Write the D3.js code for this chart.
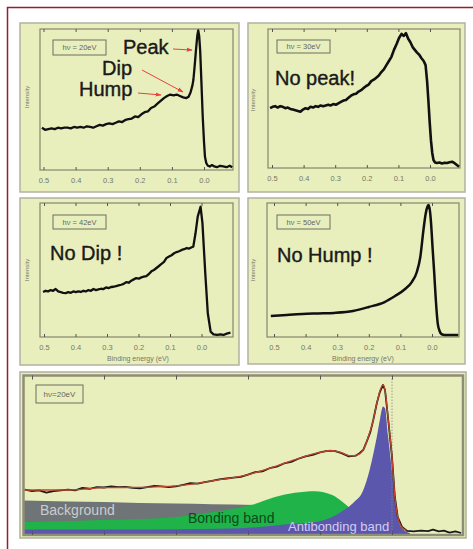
<!DOCTYPE html>
<html><head><meta charset="utf-8">
<script src="https://cdn.jsdelivr.net/npm/d3@7"></script>
<style>body{margin:0;background:#fff}svg{display:block}</style>
</head><body>
<svg id="c" width="473" height="549"></svg>
<script>
// ---------- data ----------
const tickValues = [0.5, 0.4, 0.3, 0.2, 0.1, 0.0];
const tickLabels = ["0.5", "0.4", "0.3", "0.2", "0.1", "0.0"];
const panelTitles = ["hν = 20eV", "hν = 30eV", "hν = 42eV", "hν = 50eV", "hν=20eV"];
const panelNotes = ["", "No peak!", "No Dip !", "No Hump !"];

const p1Energy = [0.505,0.495,0.485,0.475,0.465,0.455,0.445,0.435,0.425,0.415,0.405,0.395,0.385,0.375,0.365,0.355,0.345,0.335,0.325,0.315,0.305,0.295,0.285,0.275,0.265,0.255,0.245,0.235,0.225,0.215,0.205,0.195,0.185,0.175,0.165,0.155,0.145,0.135,0.125,0.115,0.105,0.095,0.085,0.075,0.065,0.055,0.048,0.042,0.036,0.033,0.029,0.025,0.021,0.018,0.015,0.012,0.008,0.004,0.000,-0.003,-0.007,-0.012,-0.018,-0.025,-0.032,-0.040,-0.050,-0.060,-0.070,-0.080,-0.088];
const p1Intensity = [0.30,0.285,0.29,0.295,0.29,0.30,0.295,0.30,0.30,0.295,0.305,0.30,0.305,0.30,0.31,0.305,0.30,0.31,0.32,0.315,0.325,0.33,0.325,0.335,0.345,0.34,0.355,0.36,0.365,0.38,0.375,0.395,0.41,0.415,0.44,0.45,0.47,0.49,0.51,0.525,0.535,0.53,0.535,0.525,0.515,0.51,0.52,0.55,0.60,0.64,0.74,0.85,0.95,0.99,0.95,0.85,0.62,0.38,0.20,0.094,0.05,0.03,0.025,0.035,0.025,0.02,0.03,0.025,0.02,0.03,0.02];

const p2Energy = [0.506,0.498,0.49,0.482,0.474,0.466,0.458,0.45,0.442,0.434,0.426,0.418,0.41,0.402,0.394,0.386,0.378,0.37,0.362,0.354,0.346,0.338,0.33,0.322,0.314,0.306,0.298,0.29,0.282,0.274,0.266,0.258,0.25,0.242,0.234,0.226,0.218,0.21,0.202,0.194,0.186,0.178,0.17,0.162,0.154,0.146,0.138,0.13,0.122,0.114,0.106,0.098,0.09,0.083,0.076,0.069,0.062,0.055,0.048,0.041,0.034,0.027,0.02,0.014,0.009,0.005,0.001,-0.003,-0.007,-0.011,-0.016,-0.022,-0.03,-0.038,-0.046,-0.054,-0.062,-0.07,-0.078,-0.086,-0.092];
const p2Intensity = [0.43,0.44,0.445,0.435,0.445,0.44,0.43,0.435,0.425,0.42,0.415,0.41,0.405,0.42,0.43,0.425,0.44,0.435,0.445,0.44,0.45,0.445,0.45,0.455,0.45,0.46,0.455,0.465,0.475,0.485,0.49,0.505,0.52,0.53,0.535,0.55,0.56,0.575,0.59,0.60,0.625,0.635,0.65,0.665,0.69,0.71,0.74,0.77,0.80,0.85,0.89,0.935,0.965,0.95,0.97,0.93,0.905,0.87,0.85,0.83,0.815,0.79,0.77,0.74,0.62,0.48,0.33,0.20,0.11,0.058,0.04,0.036,0.04,0.033,0.038,0.036,0.042,0.045,0.035,0.02,0.01];

const p3Energy = [0.503,0.495,0.487,0.479,0.471,0.463,0.455,0.447,0.439,0.431,0.423,0.415,0.407,0.399,0.391,0.383,0.375,0.367,0.359,0.351,0.343,0.335,0.327,0.319,0.311,0.303,0.295,0.287,0.279,0.271,0.263,0.255,0.247,0.239,0.231,0.223,0.215,0.207,0.199,0.191,0.183,0.175,0.167,0.159,0.151,0.143,0.135,0.127,0.119,0.111,0.103,0.095,0.087,0.079,0.071,0.063,0.055,0.047,0.039,0.031,0.026,0.019,0.012,0.003,-0.003,-0.012,-0.02,-0.029,-0.038,-0.05,-0.06,-0.07,-0.08,-0.092];
const p3Intensity = [0.336,0.345,0.34,0.35,0.345,0.358,0.34,0.335,0.33,0.328,0.335,0.33,0.34,0.335,0.34,0.336,0.345,0.34,0.35,0.345,0.358,0.35,0.355,0.36,0.358,0.37,0.365,0.373,0.375,0.38,0.385,0.39,0.396,0.41,0.405,0.42,0.43,0.44,0.435,0.445,0.45,0.455,0.47,0.49,0.50,0.515,0.53,0.545,0.56,0.59,0.60,0.61,0.625,0.634,0.64,0.65,0.655,0.664,0.66,0.67,0.674,0.774,0.898,0.972,0.85,0.475,0.177,0.04,0.02,0.015,0.02,0.015,0.025,0.032];

const p4Energy = [0.51,0.46,0.41,0.36,0.31,0.25,0.20,0.15,0.117,0.085,0.064,0.048,0.037,0.027,0.02,0.014,0.011,0.007,0.003,-0.002,-0.007,-0.012,-0.018,-0.024,-0.03,-0.04,-0.083];
const p4Intensity = [0.157,0.165,0.172,0.176,0.18,0.194,0.224,0.261,0.306,0.358,0.41,0.485,0.597,0.80,0.92,0.975,0.985,0.95,0.85,0.66,0.478,0.28,0.104,0.045,0.022,0.015,0.015];

// bottom panel (hv = 20 eV decomposition)
const dataEnergy = [0.51,0.50,0.49,0.48,0.47,0.46,0.45,0.44,0.43,0.42,0.41,0.40,0.39,0.38,0.37,0.36,0.35,0.34,0.33,0.32,0.31,0.30,0.29,0.28,0.27,0.26,0.25,0.24,0.23,0.22,0.21,0.20,0.19,0.18,0.17,0.16,0.15,0.14,0.13,0.12,0.11,0.10,0.09,0.08,0.07,0.06,0.05,0.045,0.04,0.035,0.03,0.026,0.021,0.017,0.0125,0.0097,0.0056,0.0,-0.004,-0.008,-0.014,-0.021,-0.03,-0.04,-0.05,-0.057,-0.065,-0.072,-0.08,-0.088,-0.096];
const dataIntensity = [0.275,0.265,0.27,0.255,0.265,0.27,0.275,0.27,0.285,0.28,0.29,0.288,0.295,0.29,0.292,0.285,0.282,0.29,0.298,0.295,0.29,0.295,0.305,0.315,0.312,0.322,0.33,0.34,0.345,0.35,0.355,0.37,0.385,0.39,0.41,0.42,0.44,0.45,0.47,0.485,0.495,0.51,0.52,0.52,0.505,0.485,0.49,0.505,0.525,0.58,0.64,0.715,0.823,0.89,0.937,0.905,0.734,0.48,0.228,0.10,0.038,0.013,0.01,0.015,0.012,0.022,0.01,0.015,0.003,0.01,0.0];
const fitEnergy = [0.512,0.45,0.40,0.35,0.30,0.25,0.20,0.15,0.12,0.10,0.085,0.07,0.058,0.048,0.04,0.033,0.026,0.021,0.016,0.0125,0.0097,0.0056,0.0,-0.004,-0.008,-0.013,-0.02];
const fitIntensity = [0.272,0.272,0.287,0.289,0.298,0.33,0.37,0.44,0.487,0.51,0.522,0.508,0.488,0.495,0.525,0.608,0.715,0.823,0.91,0.937,0.905,0.734,0.48,0.228,0.10,0.04,0.015];
const backgroundEnergy = [0.5125,0.45,0.40,0.35,0.30,0.25,0.19,0.15,0.10,0.06,0.03,0.0,-0.01];
const backgroundIntensity = [0.205,0.20,0.196,0.19,0.186,0.182,0.177,0.16,0.13,0.10,0.06,0.02,0.0];
const bondingEnergy = [0.5125,0.461,0.406,0.35,0.294,0.257,0.225,0.193,0.1625,0.135,0.107,0.083,0.069,0.058,0.044,0.024,0.0,-0.011];
const bondingIntensity = [0.07,0.075,0.083,0.088,0.105,0.127,0.15,0.18,0.228,0.255,0.265,0.24,0.198,0.156,0.11,0.06,0.02,0.0];
const antibondingEnergy = [0.5125,0.406,0.267,0.211,0.146,0.10,0.072,0.054,0.04,0.031,0.025,0.021,0.0167,0.0125,0.0097,0.0056,-0.0014,-0.007,-0.011,-0.018,-0.025];
const antibondingIntensity = [0.022,0.022,0.026,0.03,0.055,0.075,0.13,0.19,0.27,0.40,0.52,0.61,0.72,0.80,0.79,0.62,0.335,0.146,0.05,0.012,0.0];
const bandLabels = ["Background", "Bonding band", "Antibonding band"];

// ---------- drawing ----------
const svg = d3.select("#c");
const FONT = "'Liberation Sans', Arial, sans-serif";
const PANEL_FILL = "#e8efbc";
const zip = (a, b) => a.map((v, i) => [v, b[i]]);

// dark red frame
svg.append("rect").attr("x", 7.5).attr("y", 7.5).attr("width", 500).attr("height", 600)
  .attr("fill", "none").attr("stroke", "#9b1c30").attr("stroke-width", 1.5);

const defs = svg.append("defs");
defs.append("marker").attr("id", "arr").attr("viewBox", "0 0 10 10").attr("refX", 9).attr("refY", 5)
  .attr("markerWidth", 6).attr("markerHeight", 6).attr("orient", "auto")
  .append("path").attr("d", "M0,1.5 L10,5 L0,8.5 Z").attr("fill", "#e8413c");

const small = [
  {o:[20,23,239,192], l:40, r:233, t:29, b:170, x05:43.5, x00:204, E:p1Energy, I:p1Intensity, lw:2.3, box:[53,40,106,55], ylab:[27,97], xlab:null},
  {o:[248,23,465,192], l:268, r:460, t:29, b:168, x05:272, x00:430, E:p2Energy, I:p2Intensity, lw:2.6, box:[277,40,330,53], ylab:[253,100], xlab:null, note:[275,85]},
  {o:[20,198,239,365], l:40, r:233, t:203, b:337, x05:44, x00:201.5, E:p3Energy, I:p3Intensity, lw:2.3, box:[53,215,106,229], ylab:[27,270], xlab:[138,361], note:[50,260]},
  {o:[248,198,465,364], l:267, r:459, t:203, b:337, x05:274, x00:432, E:p4Energy, I:p4Intensity, lw:2.5, box:[277,215,330,229], ylab:[253,270], xlab:[363,361], note:[277,261.5], smooth:true}
];

small.forEach((c, k) => {
  const g = svg.append("g");
  g.append("rect").attr("x", c.o[0]).attr("y", c.o[1]).attr("width", c.o[2]-c.o[0]).attr("height", c.o[3]-c.o[1])
    .attr("fill", PANEL_FILL).attr("stroke", "#b3b3a0").attr("stroke-width", 1.5);
  const x = d3.scaleLinear().domain([tickValues[0], tickValues[5]]).range([c.x05, c.x00]);
  const y = d3.scaleLinear().domain([0, 1]).range([c.b, c.t]);
  g.append("rect").attr("x", c.l).attr("y", c.t).attr("width", c.r-c.l).attr("height", c.b-c.t)
    .attr("fill", "none").attr("stroke", "#85856f").attr("stroke-width", 1.2);
  const ax = g.append("g").attr("transform", `translate(0,${c.b})`)
    .call(d3.axisBottom(x).tickValues(tickValues).tickFormat((d,i) => tickLabels[i]).tickSize(-3).tickPadding(8));
  ax.select(".domain").remove();
  ax.selectAll("line").attr("stroke", "#555");
  ax.selectAll("text").attr("fill", "#77776a").style("font", `7.5px ${FONT}`);
  const at = g.append("g").attr("transform", `translate(0,${c.t})`)
    .call(d3.axisTop(x).tickValues(tickValues).tickFormat("").tickSize(-3));
  at.select(".domain").remove();
  at.selectAll("line").attr("stroke", "#555");

  const clipId = "clip" + k;
  defs.append("clipPath").attr("id", clipId).append("rect")
    .attr("x", c.l).attr("y", c.t).attr("width", c.r-c.l).attr("height", c.b-c.t);
  const line = d3.line().x(d => x(d[0])).y(d => y(d[1]));
  if (c.smooth) line.curve(d3.curveMonotoneX);
  g.append("path").attr("clip-path", `url(#${clipId})`).datum(zip(c.E, c.I))
    .attr("d", line).attr("fill", "none").attr("stroke", "#111").attr("stroke-width", c.lw)
    .attr("stroke-linejoin", "round");

  g.append("rect").attr("x", c.box[0]).attr("y", c.box[1]).attr("width", c.box[2]-c.box[0]).attr("height", c.box[3]-c.box[1])
    .attr("fill", "none").attr("stroke", "#6e6e60").attr("stroke-width", 1);
  g.append("text").attr("x", (c.box[0]+c.box[2])/2).attr("y", (c.box[1]+c.box[3])/2 + 2.7)
    .attr("text-anchor", "middle").attr("fill", "#666").style("font", `7.5px ${FONT}`).text(panelTitles[k]);
  g.append("text").attr("transform", `translate(${c.ylab[0]},${c.ylab[1]}) rotate(-90)`)
    .attr("text-anchor", "middle").attr("dy", "0.35em").attr("fill", "#77776a").style("font", `6px ${FONT}`).text("Intensity");
  if (c.xlab) g.append("text").attr("x", c.xlab[0]).attr("y", c.xlab[1]).attr("text-anchor", "middle")
    .attr("fill", "#77776a").style("font", `7px ${FONT}`).text("Binding energy (eV)");
  if (c.note) g.append("text").attr("x", c.note[0]).attr("y", c.note[1]).attr("fill", "#1a1a1a")
    .attr("stroke", "#1a1a1a").attr("stroke-width", 0.4)
    .style("font", `20px ${FONT}`).text(panelNotes[k]);
});

// annotations panel 1
const ann = [["Peak",123,53.5],["Dip",102,75],["Hump",79,96]];
ann.forEach(a => svg.append("text").attr("x", a[1]).attr("y", a[2]).attr("fill", "#1a1a1a")
  .attr("stroke", "#1a1a1a").attr("stroke-width", 0.4).style("font", `20px ${FONT}`).text(a[0]));
const arrows = [[173,49,192,50],[142,70,183,92],[138,93,161,95]];
arrows.forEach(a => svg.append("line").attr("x1", a[0]).attr("y1", a[1]).attr("x2", a[2]).attr("y2", a[3])
  .attr("stroke", "#e8413c").attr("stroke-width", 1).attr("marker-end", "url(#arr)"));

// ---------- bottom panel ----------
{
  const L = 23.5, R = 463, T = 375.5, B = 535;
  const g = svg.append("g");
  g.append("rect").attr("x", 20).attr("y", 372).attr("width", 446).attr("height", 166)
    .attr("fill", PANEL_FILL).attr("stroke", "#b0b09c").attr("stroke-width", 1.5);
  const x = d3.scaleLinear().domain([tickValues[0], tickValues[5]]).range([32, 392]);
  const y = d3.scaleLinear().domain([0, 1]).range([533, 375]);
  defs.append("clipPath").attr("id", "clipB").append("rect").attr("x", L).attr("y", T).attr("width", R-L).attr("height", B-T);
  const pg = g.append("g").attr("clip-path", "url(#clipB)");
  const area = d3.area().x(d => x(d[0])).y0(y(0)+2).y1(d => y(d[1])).curve(d3.curveMonotoneX);
  pg.append("path").datum(zip(backgroundEnergy, backgroundIntensity)).attr("d", area).attr("fill", "#6f7477");
  pg.append("path").datum(zip(bondingEnergy, bondingIntensity)).attr("d", area).attr("fill", "#1fb34a");
  pg.append("path").datum(zip(antibondingEnergy, antibondingIntensity)).attr("d", area).attr("fill", "#5b57ad");
  pg.append("line").attr("x1", x(0)).attr("x2", x(0)).attr("y1", T).attr("y2", B)
    .attr("stroke", "#888").attr("stroke-width", 0.8).attr("stroke-dasharray", "1.5,1.5");
  pg.append("path").datum(zip(dataEnergy, dataIntensity))
    .attr("d", d3.line().x(d => x(d[0])).y(d => y(d[1])))
    .attr("fill", "none").attr("stroke", "#1a1a1a").attr("stroke-width", 1.8).attr("stroke-linejoin", "round");
  pg.append("path").datum(zip(fitEnergy, fitIntensity))
    .attr("d", d3.line().x(d => x(d[0])).y(d => y(d[1])).curve(d3.curveMonotoneX))
    .attr("fill", "none").attr("stroke", "#c0452e").attr("stroke-width", 1.3);

  g.append("text").attr("x", 40).attr("y", 515).attr("fill", "#c9cdd0").style("font", `14px ${FONT}`).text(bandLabels[0]);
  g.append("text").attr("x", 188).attr("y", 522.5).attr("fill", "#0c4a18").style("font", `14px ${FONT}`).text(bandLabels[1]);
  g.append("text").attr("x", 288).attr("y", 530.5).attr("fill", "#d2ccf2").style("font", `13px ${FONT}`).text(bandLabels[2]);

  g.append("rect").attr("x", L).attr("y", T).attr("width", R-L).attr("height", B-T)
    .attr("fill", "none").attr("stroke", "#8e8e78").attr("stroke-width", 2.5);
  const bt = g.append("g").attr("transform", `translate(0,${B})`)
    .call(d3.axisBottom(x).tickValues(tickValues).tickFormat("").tickSize(-4));
  bt.select(".domain").remove(); bt.selectAll("line").attr("stroke", "#555");
  const tt = g.append("g").attr("transform", `translate(0,${T})`)
    .call(d3.axisTop(x).tickValues(tickValues).tickFormat("").tickSize(-4));
  tt.select(".domain").remove(); tt.selectAll("line").attr("stroke", "#555");

  g.append("rect").attr("x", 36).attr("y", 385).attr("width", 47).attr("height", 18)
    .attr("fill", "none").attr("stroke", "#6e6e60").attr("stroke-width", 1);
  g.append("text").attr("x", 59.5).attr("y", 397).attr("text-anchor", "middle").attr("fill", "#666")
    .style("font", `8px ${FONT}`).text(panelTitles[4]);
}
</script>
</body></html>
